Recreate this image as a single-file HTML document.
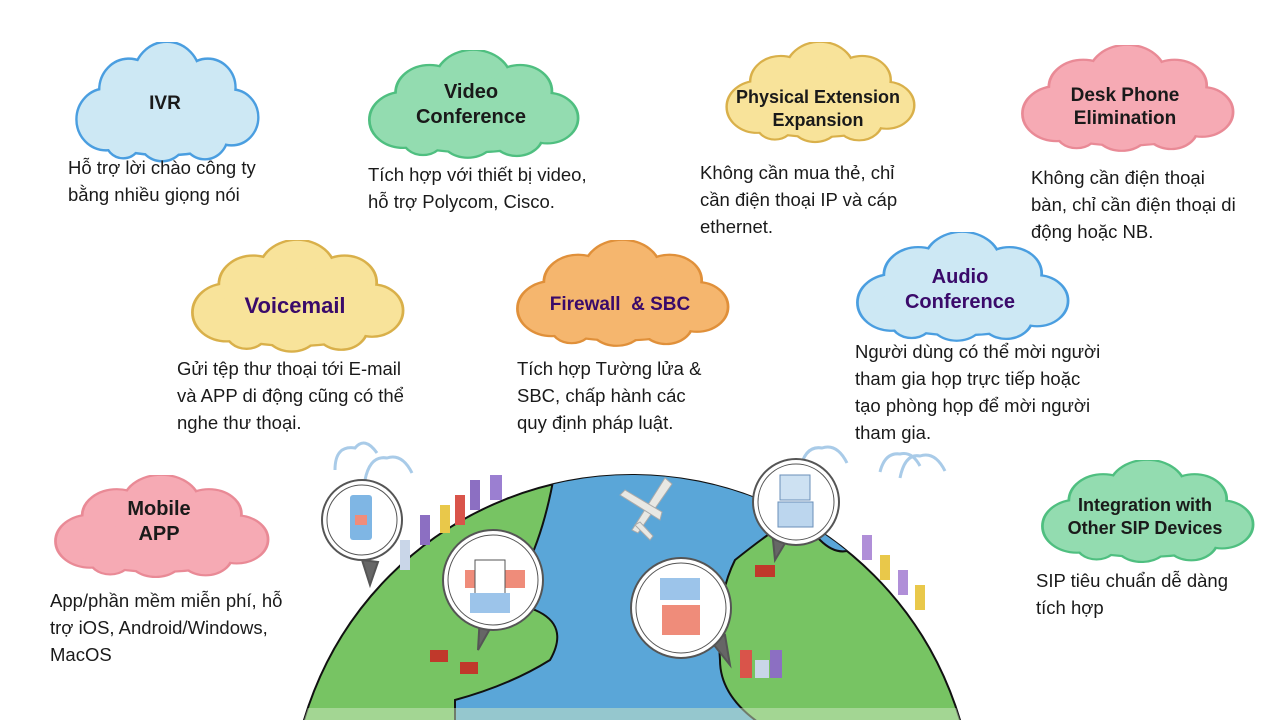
<!DOCTYPE html>
<html style="overflow:hidden"><head><meta charset="utf-8"><style>
html,body{margin:0;width:1280px;height:720px;overflow:hidden}
body{background:#fff;position:relative;font-family:"Liberation Sans",sans-serif}
svg{position:absolute;left:0;top:0}
.t{position:absolute;font-size:18.5px;line-height:27px;color:#1a1a1a;white-space:nowrap}
</style></head><body>
<svg width="1280" height="720" viewBox="0 0 1280 720">
<defs>
<g id="cl">
<circle cx="38" cy="78" r="30"/><circle cx="62" cy="48" r="30"/><circle cx="102" cy="35" r="34"/>
<circle cx="145" cy="46" r="28"/><circle cx="170" cy="76" r="27"/><circle cx="142" cy="94" r="23"/>
<circle cx="97" cy="94" r="25"/><circle cx="56" cy="98" r="18"/><circle cx="110" cy="70" r="40"/>
<ellipse cx="100" cy="85" rx="78" ry="28"/>
</g>
<clipPath id="gc"><circle cx="632" cy="817" r="342"/></clipPath>
</defs>
<svg x="70" y="42" width="190" height="124" viewBox="0 0 200 125" preserveAspectRatio="none"><use href="#cl" fill="#4a9ee0" stroke="#4a9ee0" stroke-width="5"/><use href="#cl" fill="#cde8f4"/></svg>
<svg x="362" y="50" width="218" height="112" viewBox="0 0 200 125" preserveAspectRatio="none"><use href="#cl" fill="#4fbf80" stroke="#4fbf80" stroke-width="5"/><use href="#cl" fill="#93dcb0"/></svg>
<svg x="720" y="42" width="196" height="104" viewBox="0 0 200 125" preserveAspectRatio="none"><use href="#cl" fill="#d9b04a" stroke="#d9b04a" stroke-width="5"/><use href="#cl" fill="#f8e39a"/></svg>
<svg x="1015" y="45" width="220" height="110" viewBox="0 0 200 125" preserveAspectRatio="none"><use href="#cl" fill="#e98a96" stroke="#e98a96" stroke-width="5"/><use href="#cl" fill="#f6aab4"/></svg>
<svg x="185" y="240" width="220" height="116" viewBox="0 0 200 125" preserveAspectRatio="none"><use href="#cl" fill="#d9b04a" stroke="#d9b04a" stroke-width="5"/><use href="#cl" fill="#f8e39a"/></svg>
<svg x="510" y="240" width="220" height="110" viewBox="0 0 200 125" preserveAspectRatio="none"><use href="#cl" fill="#e0903a" stroke="#e0903a" stroke-width="5"/><use href="#cl" fill="#f5b66e"/></svg>
<svg x="850" y="232" width="220" height="113" viewBox="0 0 200 125" preserveAspectRatio="none"><use href="#cl" fill="#4a9ee0" stroke="#4a9ee0" stroke-width="5"/><use href="#cl" fill="#cde8f4"/></svg>
<svg x="48" y="475" width="222" height="106" viewBox="0 0 200 125" preserveAspectRatio="none"><use href="#cl" fill="#e98a96" stroke="#e98a96" stroke-width="5"/><use href="#cl" fill="#f6aab4"/></svg>
<svg x="1035" y="460" width="220" height="106" viewBox="0 0 200 125" preserveAspectRatio="none"><use href="#cl" fill="#4fbf80" stroke="#4fbf80" stroke-width="5"/><use href="#cl" fill="#93dcb0"/></svg>
<g fill="none" stroke="#a9cbe8" stroke-width="3">
<path d="M335 470 q0-25 20-22 q10-12 22 5 M365 480 q5-25 22-22 q15-5 25 15"/>
<path d="M800 470 q5-25 22-22 q15-5 25 15 M880 472 q5-20 20-18 q12-3 20 12 M900 478 q5-25 20-22 q15-5 25 15"/>
</g>
<circle cx="632" cy="817" r="342" fill="#77c463" stroke="#111" stroke-width="2"/>
<g clip-path="url(#gc)">
<path d="M555 470 Q545 530 525 570 Q505 600 535 610 Q570 625 550 660 Q510 685 455 700 L455 730 L770 730 Q720 700 720 660 Q715 600 735 560 Q760 540 775 530 Q800 520 820 540 Q840 560 860 545 L860 470 Z" fill="#5aa6d8" stroke="#111" stroke-width="2"/>
<rect x="290" y="708" width="690" height="14" fill="#cfe8c4" opacity=".5"/>
</g>
<g>
<rect x="400" y="540" width="10" height="30" fill="#c9d6e8"/><rect x="420" y="515" width="10" height="30" fill="#8c6fc2"/>
<rect x="440" y="505" width="10" height="28" fill="#e9c84a"/><rect x="455" y="495" width="10" height="30" fill="#d9544a"/>
<rect x="470" y="480" width="10" height="30" fill="#8c6fc2"/><rect x="490" y="475" width="12" height="25" fill="#9b7fd1"/>
<rect x="862" y="535" width="10" height="25" fill="#b08fd8"/><rect x="880" y="555" width="10" height="25" fill="#e9c84a"/>
<rect x="898" y="570" width="10" height="25" fill="#b08fd8"/><rect x="915" y="585" width="10" height="25" fill="#e9c84a"/>
<rect x="740" y="650" width="12" height="28" fill="#d9544a"/><rect x="755" y="660" width="14" height="18" fill="#c9d6e8"/><rect x="770" y="650" width="12" height="28" fill="#8c6fc2"/>
</g>
<g fill="#e8e8e4" stroke="#aaa">
<path d="M665 478 L632 530 L638 533 L672 484 Z"/>
<path d="M620 495 L660 520 L662 512 L625 490 Z"/>
<path d="M635 525 L650 540 L653 536 L640 522 Z"/>
</g>
<g fill="#fff" stroke="#555" stroke-width="2">
<path d="M362 560 L370 585 L378 562 Z" fill="#666"/><circle cx="362" cy="520" r="40"/><circle cx="362" cy="520" r="35" fill="none" stroke-width="1"/>
<path d="M480 615 L478 650 L495 620 Z" fill="#666"/><circle cx="493" cy="580" r="50"/><circle cx="493" cy="580" r="45" fill="none" stroke-width="1"/>
<path d="M710 640 L730 665 L725 635 Z" fill="#666"/><circle cx="681" cy="608" r="50"/><circle cx="681" cy="608" r="45" fill="none" stroke-width="1"/>
<path d="M772 530 L775 560 L790 535 Z" fill="#666"/><circle cx="796" cy="502" r="43"/><circle cx="796" cy="502" r="38" fill="none" stroke-width="1"/>
</g>
<g>
<rect x="350" y="495" width="22" height="45" rx="3" fill="#7fb6e4"/><rect x="355" y="515" width="12" height="10" fill="#ef8c7a"/>
<rect x="465" y="570" width="60" height="18" fill="#ef8c7a"/><rect x="475" y="560" width="30" height="35" fill="#fff" stroke="#555"/><rect x="470" y="593" width="40" height="20" fill="#9cc4ea"/>
<rect x="660" y="578" width="40" height="22" fill="#9cc4ea"/><rect x="662" y="605" width="38" height="30" fill="#ef8c7a"/>
<rect x="780" y="475" width="30" height="25" fill="#cde1f2" stroke="#6a8fb8"/><rect x="778" y="502" width="35" height="25" fill="#bcd6ee" stroke="#6a8fb8"/>
</g>
<g fill="#c0392b"><rect x="430" y="650" width="18" height="12"/><rect x="460" y="662" width="18" height="12"/><rect x="755" y="565" width="20" height="12"/></g>
</svg>

<div class="t" style="left:70px;top:90px;width:190px;text-align:center;font-weight:bold;font-size:19px">IVR</div>
<div class="t" style="left:362px;top:80px;width:218px;text-align:center;font-weight:bold;font-size:20px;line-height:25px">Video<br>Conference</div>
<div class="t" style="left:720px;top:86px;width:196px;text-align:center;font-weight:bold;font-size:18px;line-height:23px">Physical Extension<br>Expansion</div>
<div class="t" style="left:1015px;top:84px;width:220px;text-align:center;font-weight:bold;font-size:19px;line-height:23px">Desk Phone<br>Elimination</div>
<div class="t" style="left:185px;top:292px;width:220px;text-align:center;font-weight:bold;font-size:22px;color:#3a0a6a">Voicemail</div>
<div class="t" style="left:510px;top:291px;width:220px;text-align:center;font-weight:bold;font-size:19px;color:#3a0a6a">Firewall &nbsp;&amp; SBC</div>
<div class="t" style="left:850px;top:265px;width:220px;text-align:center;font-weight:bold;font-size:20px;line-height:25px;color:#3a0a6a">Audio<br>Conference</div>
<div class="t" style="left:48px;top:497px;width:222px;text-align:center;font-weight:bold;font-size:20px;line-height:25px">Mobile<br>APP</div>
<div class="t" style="left:1035px;top:494px;width:220px;text-align:center;font-weight:bold;font-size:18px;line-height:23px">Integration with<br>Other SIP Devices</div>

<div class="t" style="left:68px;top:154px">Hỗ trợ lời chào công ty<br>bằng nhiều giọng nói</div>
<div class="t" style="left:368px;top:161px">Tích hợp với thiết bị video,<br>hỗ trợ Polycom, Cisco.</div>
<div class="t" style="left:700px;top:159px">Không cần mua thẻ, chỉ<br>cần điện thoại IP và cáp<br>ethernet.</div>
<div class="t" style="left:1031px;top:164px">Không cần điện thoại<br>bàn, chỉ cần điện thoại di<br>động hoặc NB.</div>
<div class="t" style="left:177px;top:355px">Gửi tệp thư thoại tới E-mail<br>và APP di động cũng có thể<br>nghe thư thoại.</div>
<div class="t" style="left:517px;top:355px">Tích hợp Tường lửa &amp;<br>SBC, chấp hành các<br>quy định pháp luật.</div>
<div class="t" style="left:855px;top:338px">Người dùng có thể mời người<br>tham gia họp trực tiếp hoặc<br>tạo phòng họp để mời người<br>tham gia.</div>
<div class="t" style="left:50px;top:587px">App/phần mềm miễn phí, hỗ<br>trợ iOS, Android/Windows,<br>MacOS</div>
<div class="t" style="left:1036px;top:567px">SIP tiêu chuẩn dễ dàng<br>tích hợp</div>
</body></html>
